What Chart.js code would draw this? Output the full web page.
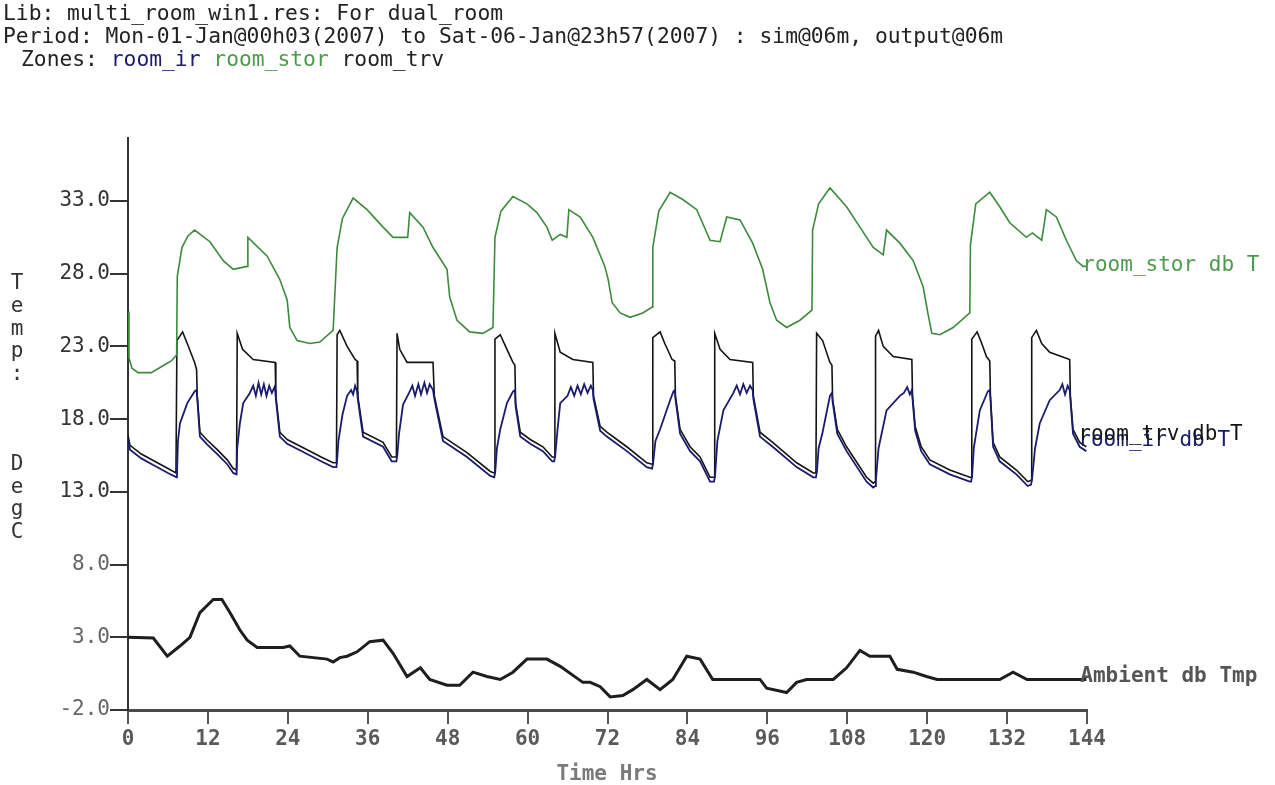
<!DOCTYPE html>
<html><head><meta charset="utf-8">
<script src="https://cdn.jsdelivr.net/npm/chart.js@4.4.1/dist/chart.umd.min.js"></script>
<style>html,body{margin:0;padding:0;background:#fff;overflow:hidden}canvas{display:block}</style>
</head><body>
<canvas id="c" width="1275" height="785"></canvas>
<script>
// ---- text ----
const TITLE_1 = "Lib: multi_room_win1.res: For dual_room";
const TITLE_2 = "Period: Mon-01-Jan@00h03(2007) to Sat-06-Jan@23h57(2007) : sim@06m, output@06m";
const ZONES_PREFIX = "Zones: ";
const ZONE_NAMES = ["room_ir", "room_stor", "room_trv"];
const Y_TITLE = "Temp:   DegC";
const X_TITLE = "Time Hrs";

// ---- ticks ----
const X_TICKS = [0, 12, 24, 36, 48, 60, 72, 84, 96, 108, 120, 132, 144];
const Y_TICKS = [-2, 3, 8, 13, 18, 23, 28, 33];

// ---- series: [hour, deg C] ----
const STOR = [[0,25.4],[0.15,22.2],[0.6,21.5],[1.5,21.2],[3.5,21.2],[5,21.6],[6.5,22.0],[7.3,22.4],[7.4,27.8],[8.1,29.8],
[9.0,30.6],[10.0,31.0],[12.3,30.2],[14.3,28.9],[15.8,28.3],[17.9,28.5],[18.0,30.5],[20.9,29.2],[22.8,27.6],[23.9,26.2],
[24.3,24.3],[25.4,23.4],[27.3,23.2],[28.8,23.3],[30.8,24.1],[31.4,29.8],[32.2,31.8],[33.8,33.2],[35.9,32.4],[38.3,31.2],
[39.8,30.5],[42.0,30.5],[42.3,32.2],[44.3,31.2],[45.8,29.8],[47.9,28.3],[48.3,26.4],[49.4,24.8],[51.3,24.0],[53.3,23.9],
[54.8,24.3],[55.1,30.5],[56.0,32.3],[57.8,33.3],[59.9,32.8],[61.4,32.2],[62.9,31.2],[63.7,30.3],[64.9,30.7],[65.9,30.5],
[66.2,32.4],[67.9,31.9],[69.8,30.5],[71.6,28.5],[72.1,27.6],[72.7,26.0],[73.9,25.3],[75.4,25.0],[77.3,25.3],[78.7,25.7],
[78.8,29.8],[79.7,32.3],[81.4,33.6],[83.3,33.1],[85.4,32.4],[87.4,30.3],[88.9,30.2],[89.9,31.9],[91.9,31.7],[93.8,30.1],
[95.3,28.3],[96.4,26.0],[97.4,24.8],[98.9,24.3],[100.9,24.8],[102.7,25.5],[102.8,31.0],[103.7,32.8],[105.4,33.9],[107.9,32.6],
[109.9,31.2],[111.9,29.8],[113.4,29.3],[113.9,31.0],[115.9,30.1],[117.9,28.9],[119.4,27.1],[120.1,25.3],[120.7,23.9],[121.9,23.8],
[123.9,24.3],[126.4,25.3],[126.5,30.0],[127.3,32.8],[129.4,33.6],[130.9,32.6],[132.4,31.5],[134.9,30.5],[135.8,30.8],[137.2,30.3],
[137.9,32.4],[139.4,31.9],[140.9,30.3],[142.4,28.9],[143.4,28.5],[143.9,28.5]];

const TRV = [[0,16.9],[0.3,16.2],[2,15.6],[4,15.1],[6,14.6],[7.2,14.3],[7.35,23.4],[8.2,24.0],[8.9,23.2],[10.0,21.9],
[10.3,21.4],[10.4,19.6],[10.8,17.1],[11.8,16.6],[13.4,15.9],[14.9,15.2],[15.8,14.6],[16.3,14.5],[16.4,23.9],[17.2,22.8],
[18.8,22.1],[22.1,21.9],[22.2,19.6],[22.8,17.1],[23.9,16.6],[26.9,15.9],[29.0,15.4],[30.8,15.0],[31.3,15.0],[31.4,23.8],
[31.8,24.1],[32.9,23.0],[34.1,22.1],[34.4,22.0],[34.5,19.6],[35.3,17.1],[38.3,16.4],[39.6,15.4],[40.3,15.4],[40.4,23.9],
[40.8,22.8],[41.9,21.9],[45.8,21.9],[46.0,19.6],[47.3,16.8],[50.9,15.7],[54.4,14.4],[55.0,14.3],[55.1,23.5],[55.9,23.8],
[56.9,22.8],[57.8,21.9],[58.1,21.7],[58.2,19.1],[58.9,17.1],[60.4,16.6],[62.3,16.1],[63.7,15.4],[64.0,15.4],[64.1,23.9],
[64.9,22.6],[66.8,22.1],[69.8,21.9],[69.9,19.6],[70.9,17.5],[71.9,17.1],[74.9,16.1],[77.9,15.0],[78.7,14.9],[78.8,23.6],
[79.9,24.0],[80.6,23.2],[81.7,22.1],[82.1,22.0],[82.2,19.6],[82.9,17.3],[84.4,16.1],[85.9,15.4],[87.4,14.0],[88.0,14.0],
[88.1,23.9],[88.9,22.8],[90.4,22.1],[93.8,21.9],[93.9,19.6],[94.9,17.1],[96.8,16.4],[100.4,15.0],[102.9,14.3],[103.3,14.3],
[103.4,23.9],[104.3,23.4],[105.4,21.9],[105.7,21.7],[105.8,19.4],[106.5,17.3],[107.9,16.1],[110.9,14.0],[111.9,13.6],[112.2,13.7],
[112.25,23.7],[112.7,24.1],[113.4,23.0],[114.9,22.3],[117.7,22.1],[117.8,19.6],[118.2,17.5],[119.1,16.1],[120.4,15.2],[123.4,14.5],
[126.4,14.0],[126.6,14.0],[126.7,23.5],[127.5,24.0],[128.2,23.2],[128.9,22.3],[129.4,22.0],[129.5,19.6],[129.9,16.4],[130.9,15.4],
[133.4,14.5],[135.1,13.7],[135.6,13.8],[135.7,23.6],[136.4,24.1],[137.2,23.2],[138.4,22.6],[141.4,22.1],[141.5,19.6],[141.9,17.3],
[142.9,16.4],[143.9,16.1]];

const IR = [[0,16.6],[0.3,15.9],[2,15.3],[4,14.8],[6,14.3],[7.3,14.0],
[7.35,14.1],[7.5,16.5],[7.8,17.7],[8.9,19.1],[10.0,19.9],[10.3,20.0],[10.4,19.4],
[10.8,16.8],[11.8,16.3],[13.4,15.6],[14.9,14.9],[15.8,14.3],[16.3,14.2],
[16.4,16.0],[16.8,17.7],[17.3,19.1],[18.3,19.8],[18.8,20.3],[19.2,19.6],[19.6,20.5],[20.0,19.7],[20.4,20.4],[20.8,19.6],[21.2,20.3],[21.6,19.8],[22.0,20.2],[22.1,20.0],[22.2,19.4],
[22.8,16.8],[23.9,16.3],[26.9,15.6],[29.0,15.1],[30.8,14.7],[31.3,14.7],
[31.4,15.2],[31.6,16.5],[32.2,18.3],[32.9,19.6],[33.5,20.0],[33.8,19.7],[34.1,20.3],[34.4,19.9],[34.5,19.4],
[35.3,16.8],[38.3,16.1],[39.6,15.1],[40.3,15.1],
[40.45,15.6],[40.7,17.0],[41.3,19.0],[42.2,19.8],[42.7,20.3],[43.1,19.6],[43.6,20.4],[44.0,19.7],[44.5,20.5],[44.9,19.8],[45.3,20.4],[45.8,20.0],[46.0,19.4],
[47.3,16.5],[50.9,15.4],[54.4,14.1],[55.0,14.0],
[55.15,14.4],[55.4,16.0],[55.9,17.3],[56.9,19.1],[57.8,19.9],[58.1,20.0],[58.2,18.9],
[58.9,16.8],[60.4,16.3],[62.3,15.8],[63.7,15.1],[64.0,15.1],
[64.15,15.5],[64.5,17.3],[64.9,19.1],[66.0,19.6],[66.5,20.2],[67.0,19.6],[67.5,20.3],[68.0,19.7],[68.5,20.4],[69.0,19.8],[69.5,20.3],[69.8,20.0],[69.9,19.4],
[70.9,17.2],[71.9,16.8],[74.9,15.8],[77.9,14.7],[78.7,14.6],
[78.85,15.0],[79.2,16.5],[79.9,17.3],[81.4,19.3],[81.9,19.9],[82.1,20.0],[82.2,19.4],
[82.9,17.0],[84.4,15.8],[85.9,15.1],[87.4,13.7],[88.0,13.7],
[88.15,14.1],[88.5,16.5],[89.4,18.6],[90.9,19.8],[91.4,20.3],[91.9,19.7],[92.4,20.4],[92.9,19.8],[93.4,20.3],[93.8,20.0],[93.9,19.4],
[94.9,16.8],[96.8,16.1],[100.4,14.7],[102.9,14.0],[103.3,14.0],
[103.45,14.4],[103.7,16.0],[104.3,17.1],[105.4,19.6],[105.7,19.8],[105.8,19.2],
[106.5,17.0],[107.9,15.8],[110.9,13.7],[111.9,13.3],[112.2,13.4],
[112.3,13.8],[112.7,16.0],[113.9,18.6],[115.9,19.6],[116.5,19.8],[117.0,20.2],[117.4,19.7],[117.7,20.0],[117.8,19.4],
[118.2,17.2],[119.1,15.8],[120.4,14.9],[123.4,14.2],[126.4,13.7],[126.6,13.7],
[126.75,14.1],[127.0,16.0],[127.9,18.6],[129.1,19.9],[129.4,20.0],[129.5,19.4],
[129.9,16.1],[130.9,15.1],[133.4,14.2],[135.1,13.4],[135.6,13.5],
[135.75,13.9],[136.2,16.0],[136.9,17.7],[138.4,19.3],[139.9,20.0],[140.3,20.4],[140.7,19.7],[141.1,20.3],[141.4,20.0],[141.5,19.4],
[141.9,17.0],[142.9,16.1],[143.9,15.8]];

const AMBIENT = [[0,3.0],[3.8,2.95],[5.9,1.7],[7.8,2.4],[9.3,3.0],[10.8,4.7],[12.8,5.6],[14.1,5.6],[15.3,4.7],[16.8,3.5],
[17.9,2.8],[19.4,2.3],[23.3,2.3],[24.3,2.4],[25.8,1.7],[29.9,1.5],[30.8,1.3],[31.8,1.6],[32.9,1.7],[34.4,2.0],
[36.3,2.7],[38.3,2.8],[39.8,1.9],[41.9,0.3],[43.9,0.9],[45.3,0.1],[47.9,-0.3],[49.8,-0.3],[51.8,0.6],[53.9,0.3],
[55.9,0.1],[57.8,0.6],[59.9,1.5],[62.9,1.5],[64.9,1.0],[68.3,-0.1],[69.4,-0.1],[70.9,-0.4],[72.4,-1.1],[74.3,-1.0],
[75.8,-0.6],[77.9,0.1],[79.9,-0.6],[81.8,0.1],[83.9,1.7],[85.9,1.5],[87.8,0.1],[94.9,0.1],[95.9,-0.5],[98.9,-0.8],
[100.4,-0.1],[101.9,0.1],[105.9,0.1],[107.9,0.9],[109.9,2.1],[111.4,1.7],[114.4,1.7],[115.5,0.8],[117.9,0.6],[119.9,0.3],
[121.5,0.1],[130.9,0.1],[132.9,0.6],[135.0,0.1],[143.9,0.1]];

// ---- colours ----
const C_GREEN = '#3d8a3d', C_GREEN_TXT = '#4c9a4c', C_NAVY = '#1b1b6e', C_BLACK = '#141414';
const MONO = '"DejaVu Sans Mono", "Liberation Mono", monospace';

const toXY = arr => arr.map(p => ({x: p[0], y: p[1]}));

const titlePlugin = {
  id: 'titles',
  afterDraw(chart) {
    const ctx = chart.ctx;
    ctx.save();
    ctx.font = '21.3px ' + MONO;
    ctx.textBaseline = 'middle';
    ctx.textAlign = 'left';
    ctx.fillStyle = '#222';
    ctx.fillText(TITLE_1, 3, 14);
    ctx.fillText(TITLE_2, 3, 37);
    let x = 21;
    ctx.fillText(ZONES_PREFIX, x, 60);
    x += ctx.measureText(ZONES_PREFIX).width;
    const zc = [C_NAVY, C_GREEN_TXT, '#222'];
    ZONE_NAMES.forEach((z, i) => {
      ctx.fillStyle = zc[i];
      ctx.fillText(z, x, 60);
      x += ctx.measureText(z + ' ').width;
    });
    // vertical y title
    ctx.font = '21px ' + MONO;
    ctx.fillStyle = '#333';
    ctx.textAlign = 'center';
    for (let i = 0; i < Y_TITLE.length; i++) {
      ctx.fillText(Y_TITLE[i], 17, 284 + i * 22.6);
    }
    // x title
    ctx.fillStyle = '#7a7a7a';
    ctx.font = 'bold 21px ' + MONO;
    ctx.fillText(X_TITLE, 607, 775);
    // end-of-line labels
    const xs = chart.scales.x, ys = chart.scales.y;
    ctx.textAlign = 'left';
    chart.data.datasets.forEach(ds => {
      const last = ds.data[ds.data.length - 1];
      ctx.font = (ds.labelBold ? 'bold ' : '') + '21px ' + MONO;
      ctx.fillStyle = ds.labelColor;
      ctx.fillText(ds.label, xs.getPixelForValue(last.x) + ds.labelDx, ys.getPixelForValue(last.y) + ds.labelDy);
    });
    ctx.restore();
  }
};

const tickFont = {family: MONO, size: 21};

new Chart(document.getElementById('c'), {
  type: 'line',
  data: {
    datasets: [
      {label: 'room_stor db T', data: toXY(STOR), borderColor: C_GREEN, borderWidth: 1.6, labelColor: C_GREEN_TXT, labelDx: -4, labelDy: -1},
      {label: 'room_ir db T', data: toXY(IR), borderColor: C_NAVY, borderWidth: 1.8, labelColor: C_NAVY, labelDx: -8, labelDy: -11},
      {label: 'room_trv db T', data: toXY(TRV), borderColor: C_BLACK, borderWidth: 1.6, labelColor: C_BLACK, labelDx: -8, labelDy: -12},
      {label: 'Ambient db Tmp', data: toXY(AMBIENT), borderColor: '#1e1e1e', borderWidth: 3, labelColor: '#555', labelBold: true, labelDx: -6, labelDy: -3}
    ]
  },
  options: {
    responsive: false,
    animation: false,
    devicePixelRatio: 1,
    parsing: true,
    layout: {padding: {left: 0, top: 138, right: 188, bottom: 0}},
    elements: {point: {radius: 0}, line: {tension: 0, fill: false}},
    plugins: {legend: {display: false}, tooltip: {enabled: false}, title: {display: false}},
    scales: {
      x: {
        type: 'linear', min: 0, max: 144,
        afterBuildTicks: s => { s.ticks = X_TICKS.map(v => ({value: v})); },
        afterFit: s => { s.height = 75; },
        grid: {display: true, drawOnChartArea: false, drawTicks: true, tickLength: 14, color: '#555', lineWidth: 2},
        border: {display: true, color: '#4a4a4a', width: 3},
        ticks: {font: {family: MONO, size: 21, weight: 'bold'}, color: '#5a5a5a', padding: 3, maxRotation: 0, autoSkip: false,
                callback: v => String(v)}
      },
      y: {
        type: 'linear', min: -2, max: 37.33,
        afterBuildTicks: s => { s.ticks = Y_TICKS.map(v => ({value: v})); },
        afterFit: s => { s.width = 128; },
        grid: {display: true, drawOnChartArea: false, drawTicks: true, tickLength: 18, color: '#333', lineWidth: 2},
        border: {display: true, color: '#333', width: 2},
        ticks: {font: tickFont, padding: 0, autoSkip: false,
                color: ctx => (ctx.tick && ctx.tick.value <= 8 ? '#666' : '#333'),
                callback: v => Number(v).toFixed(1)}
      }
    }
  },
  plugins: [titlePlugin]
});
</script>
</body></html>
